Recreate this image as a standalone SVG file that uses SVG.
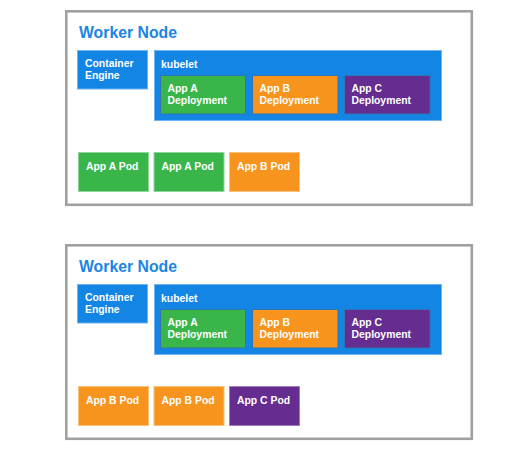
<svg xmlns="http://www.w3.org/2000/svg" width="528" height="454" viewBox="0 0 528 454">
<style>
.outer{fill:#fff;stroke:#a0a0a0;stroke-width:2.6}
.title{font-family:"Liberation Sans",Arial,sans-serif;font-weight:700;font-size:15.8px;fill:#1a85e3}
.t{font-family:"Liberation Sans",Arial,sans-serif;font-weight:700;font-size:10.4px;fill:#fff}
.blue{fill:#1385e5;stroke:#6fb3ef;stroke-width:1}
.green{fill:#39b54a;stroke:#8fd69a;stroke-width:1}
.orange{fill:#f7941e;stroke:#fbc07a;stroke-width:1}
.purple{fill:#652d90;stroke:#a07cc0;stroke-width:1}
.inblue{stroke:#2f74b5}
</style>
<rect width="528" height="454" fill="#fff"/>
<g id="worker-node-1">
<rect class="outer" x="66.3" y="11.3" width="405.5" height="193.5"/>
<text class="title" x="79" y="37.5">Worker Node</text>
<g id="container-engine-1"><rect class="blue" x="77.5" y="50.5" width="70" height="38.5"/><text class="t" x="85" y="67.3">Container</text><text class="t" x="85" y="79.4">Engine</text></g>
<g id="kubelet-1"><rect class="blue" x="154.5" y="50.5" width="287" height="70"/><text class="t" x="161" y="67.5">kubelet</text></g>
<g id="app-a-deployment-1"><rect class="green inblue" x="160.5" y="75.5" width="85" height="38.5"/><text class="t" x="167.5" y="92">App A</text><text class="t" x="167.5" y="104.2">Deployment</text></g>
<g id="app-b-deployment-1"><rect class="orange inblue" x="252.5" y="75.5" width="85.5" height="38.5"/><text class="t" x="259.5" y="92">App B</text><text class="t" x="259.5" y="104.2">Deployment</text></g>
<g id="app-c-deployment-1"><rect class="purple inblue" x="344.5" y="75.5" width="85.5" height="38.5"/><text class="t" x="351.5" y="92">App C</text><text class="t" x="351.5" y="104.2">Deployment</text></g>
<g id="pod-1a"><rect class="green" x="78.5" y="152.5" width="70" height="39"/><text class="t" x="86" y="169.5">App A Pod</text></g>
<g id="pod-1b"><rect class="green" x="154" y="152.5" width="70" height="39"/><text class="t" x="161.5" y="169.5">App A Pod</text></g>
<g id="pod-1c"><rect class="orange" x="229.5" y="152.5" width="70" height="39"/><text class="t" x="237" y="169.5">App B Pod</text></g>
</g>
<g id="worker-node-2" transform="translate(0,234)">
<rect class="outer" x="66.3" y="11.3" width="405.5" height="193.5"/>
<text class="title" x="79" y="37.5">Worker Node</text>
<g id="container-engine-2"><rect class="blue" x="77.5" y="50.5" width="70" height="38.5"/><text class="t" x="85" y="67.3">Container</text><text class="t" x="85" y="79.4">Engine</text></g>
<g id="kubelet-2"><rect class="blue" x="154.5" y="50.5" width="287" height="70"/><text class="t" x="161" y="67.5">kubelet</text></g>
<g id="app-a-deployment-2"><rect class="green inblue" x="160.5" y="75.5" width="85" height="38.5"/><text class="t" x="167.5" y="92">App A</text><text class="t" x="167.5" y="104.2">Deployment</text></g>
<g id="app-b-deployment-2"><rect class="orange inblue" x="252.5" y="75.5" width="85.5" height="38.5"/><text class="t" x="259.5" y="92">App B</text><text class="t" x="259.5" y="104.2">Deployment</text></g>
<g id="app-c-deployment-2"><rect class="purple inblue" x="344.5" y="75.5" width="85.5" height="38.5"/><text class="t" x="351.5" y="92">App C</text><text class="t" x="351.5" y="104.2">Deployment</text></g>
<g id="pod-2a"><rect class="orange" x="78.5" y="152.5" width="70" height="39"/><text class="t" x="86" y="169.5">App B Pod</text></g>
<g id="pod-2b"><rect class="orange" x="154" y="152.5" width="70" height="39"/><text class="t" x="161.5" y="169.5">App B Pod</text></g>
<g id="pod-2c"><rect class="purple" x="229.5" y="152.5" width="70" height="39"/><text class="t" x="237" y="169.5">App C Pod</text></g>
</g>
<g id="connectors"></g>
</svg>
